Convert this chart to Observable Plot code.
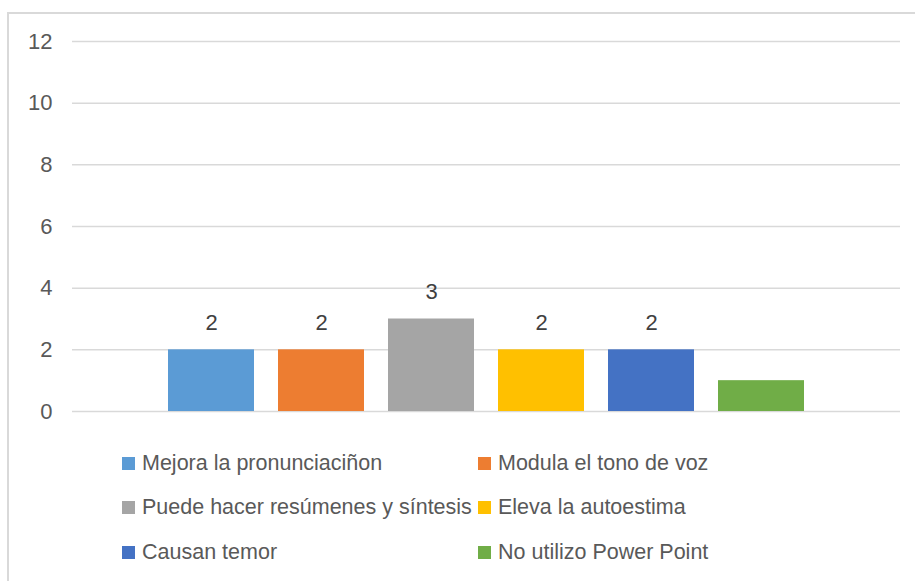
<!DOCTYPE html>
<html>
<head>
<meta charset="utf-8">
<script src="https://cdn.jsdelivr.net/npm/d3@7"></script>
<script src="https://cdn.jsdelivr.net/npm/@observablehq/plot@0.6"></script>
<style>
  html, body { margin: 0; padding: 0; background: #fff; }
  #wrap { position: relative; width: 915px; height: 581px; overflow: hidden; background: #fff;
          font-family: "Liberation Sans Narrow", "Liberation Sans", sans-serif; }
  #frame { position: absolute; left: 7px; top: 12px; width: 920px; height: 600px;
           border-top: 2px solid #d9d9d9; border-left: 2px solid #d9d9d9; box-sizing: border-box; }
  #chart { position: absolute; left: 0; top: 0; }
  #legend { position: absolute; left: 122px; top: 449px; display: grid;
            grid-template-columns: 356px 300px; grid-auto-rows: 44.5px; }
  .item { display: flex; align-items: center; font-size: 21.5px; color: #595959; white-space: nowrap; height: 28px; }
  .sw { width: 13px; height: 13px; margin-right: 7px; flex: none; }
</style>
</head>
<body>
<div id="wrap">
  <div id="frame"></div>
  <div id="chart"></div>
  <div id="legend"></div>
</div>
<script>
const categories = [
  "Mejora la pronunciaciñon",
  "Modula el tono de voz",
  "Puede hacer resúmenes y síntesis",
  "Eleva la autoestima",
  "Causan temor",
  "No utilizo Power Point"
];
const values = [2, 2, 3, 2, 2, 1];
const labeled = [true, true, true, true, true, false];
const colors = ["#5B9BD5", "#ED7D31", "#A5A5A5", "#FFC000", "#4472C4", "#70AD47"];
const yTicks = [0, 2, 4, 6, 8, 10, 12];

const data = categories.map((name, i) => ({name, value: values[i], labeled: labeled[i]}));

const chart = Plot.plot({
  width: 915,
  height: 430,
  marginTop: 41,
  marginBottom: 19,
  marginLeft: 72,
  marginRight: 15,
  style: {fontFamily: '"Liberation Sans Narrow", "Liberation Sans", sans-serif', background: "transparent"},
  x: {domain: categories, axis: null, paddingInner: 0.22, paddingOuter: 0.87},
  y: {domain: [0, 12], label: null},
  color: {domain: categories, range: colors},
  marks: [
    Plot.ruleY(yTicks, {stroke: "#d9d9d9", strokeWidth: 1.5}),
    Plot.axisY({ticks: yTicks, tickSize: 0, tickPadding: 20, fontSize: 22, color: "#595959", label: null, tickFormat: d => String(d)}),
    Plot.barY(data, {x: "name", y: "value", fill: "name"}),
    Plot.text(data.filter(d => d.labeled), {x: "name", y: "value", text: d => String(d.value), dy: -27, fontSize: 22, fill: "#404040"})
  ]
});
document.getElementById("chart").appendChild(chart);

const legend = document.getElementById("legend");
categories.forEach((name, i) => {
  const item = document.createElement("div");
  item.className = "item";
  const sw = document.createElement("span");
  sw.className = "sw";
  sw.style.background = colors[i];
  const t = document.createElement("span");
  t.textContent = name;
  item.appendChild(sw);
  item.appendChild(t);
  legend.appendChild(item);
});
</script>
</body>
</html>
